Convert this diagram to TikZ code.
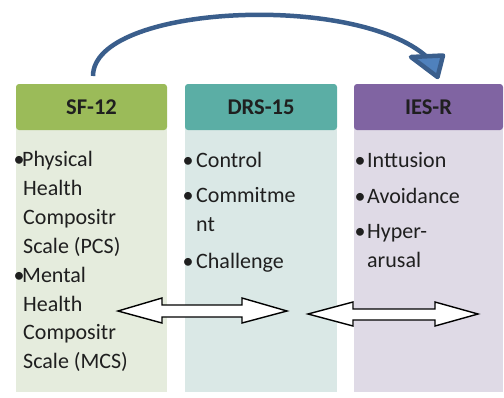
\documentclass[tikz,border=0pt]{standalone}
\usepackage{fontspec}
\setmainfont{Carlito}
\definecolor{sfhead}{HTML}{9BBB59}
\definecolor{sfbody}{HTML}{E5ECDD}
\definecolor{drshead}{HTML}{5BAEA5}
\definecolor{drsbody}{HTML}{DAE8E6}
\definecolor{ieshead}{HTML}{8064A2}
\definecolor{iesbody}{HTML}{DFDAE6}
\definecolor{curveblue}{HTML}{3A5E8C}
\definecolor{headblue}{HTML}{4F81BD}
\definecolor{txt}{HTML}{1F1F1F}
\tikzset{
  headbox/.style={rounded corners=3pt, inner sep=0pt},
  headtxt/.style={font=\fontsize{22.5}{24}\selectfont\bfseries, text=txt, inner sep=0pt},
  bodytxt/.style={font=\fontsize{22}{24}\selectfont, text=txt, anchor=base west, inner sep=0pt},
  bul/.style={font=\fontsize{22}{24}\selectfont, text=txt, anchor=base, inner sep=0pt},
  blockarrow/.style={fill=white, draw=black, line width=1.4pt, line join=miter},
  curvearrow/.style={draw=curveblue, line width=4.5pt, line join=round, line cap=round},
}
\begin{document}
\begin{tikzpicture}[x=1pt,y=-1pt]
\useasboundingbox (0,0) rectangle (504,397);
% bodies
\fill[sfbody] (16,128) rectangle (167,392);
\fill[drsbody] (185,128) rectangle (337,392);
\fill[iesbody] (354,128) rectangle (503,392);
% headers
\fill[sfhead, headbox] (16,84) rectangle (167,130);
\fill[drshead, headbox] (185,84) rectangle (337,130);
\fill[ieshead, headbox] (354,84) rectangle (503,130);
\node[headtxt] (sf) at (91.5,107) {SF-12};
\node[headtxt] (drs) at (261,107) {DRS-15};
\node[headtxt] (ies) at (428.5,107) {IES-R};
% SF-12 body
\node[bul] (s1b) at (19,166) {•};
\node[bodytxt] (s1) at (22,166) {Physical};
\node[bodytxt] (s2) at (23,195) {Health};
\node[bodytxt] (s3) at (23,224) {Compositr};
\node[bodytxt] (s4) at (23,253) {Scale (PCS)};
\node[bul] (s5b) at (19,282) {•};
\node[bodytxt] (s5) at (22,282) {Mental};
\node[bodytxt] (s6) at (23,311) {Health};
\node[bodytxt] (s7) at (23,339) {Compositr};
\node[bodytxt] (s8) at (23,368) {Scale (MCS)};
% DRS-15 body
\node[bul] (d1) at (188,167) {•};
\node[bodytxt] (d1t) at (196,167) {Control};
\node[bul] (d2) at (188,202) {•};
\node[bodytxt] (d2t) at (196,202) {Commitme};
\node[bodytxt] (d3t) at (196,231) {nt};
\node[bul] (d4) at (188,268) {•};
\node[bodytxt] (d4t) at (196,268) {Challenge};
% IES-R body
\node[bul] (i1) at (360,167) {•};
\node[bodytxt] (i1t) at (367,167) {Inttusion};
\node[bul] (i2) at (360,203) {•};
\node[bodytxt] (i2t) at (367,203) {Avoidance};
\node[bul] (i3) at (360,238) {•};
\node[bodytxt] (i3t) at (367,238) {Hyper-};
\node[bodytxt] (i4t) at (367,267) {arusal};
% double block arrows
\coordinate (a1l) at (118,311);
\coordinate (a1r) at (287,311);
\draw[blockarrow] (a1l) -- (162,298) -- (162,305) -- (242,305) -- (242,298) -- (a1r)
  -- (242,323) -- (242,317) -- (162,317) -- (162,323) -- cycle;
\coordinate (a2l) at (308,314);
\coordinate (a2r) at (478,314);
\draw[blockarrow] (a2l) -- (353,302) -- (353,309) -- (435,309) -- (435,302) -- (a2r)
  -- (435,326) -- (435,320) -- (353,320) -- (353,326) -- cycle;
% curved arrow
\coordinate (cstart) at (93,76);
\coordinate (cend) at (427,57);
\coordinate (hl) at (411,57);
\coordinate (hr) at (443,55.5);
\coordinate (ht) at (437.5,77);
\draw[curvearrow, line cap=butt] (cstart) .. controls (93,5) and (355,-8) .. (cend);
\filldraw[curvearrow, fill=headblue] (hl) -- (hr) -- (ht) -- cycle;
\end{tikzpicture}
\end{document}
